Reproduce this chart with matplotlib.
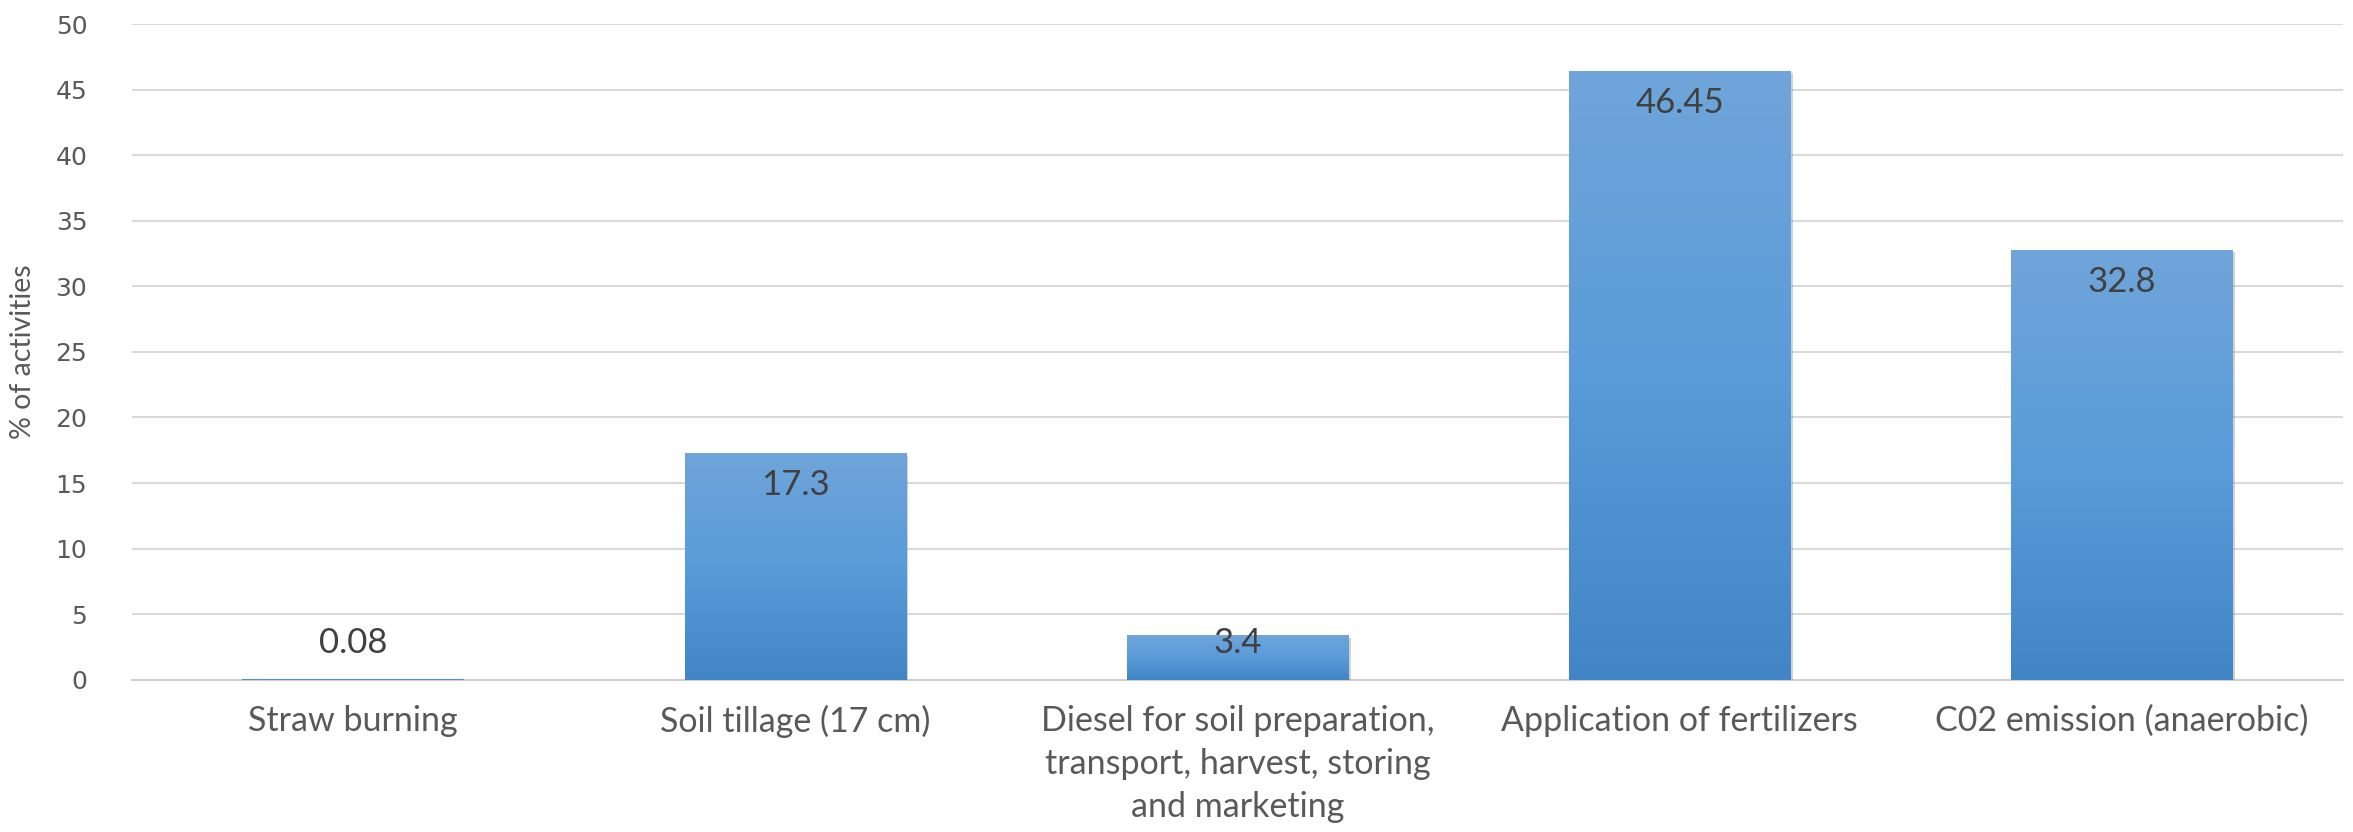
import matplotlib

matplotlib.use("Agg")
import matplotlib.pyplot as plt
import numpy as np
from matplotlib.colors import LinearSegmentedColormap
import matplotlib.patheffects as pe

categories = [
    "Straw burning",
    "Soil tillage (17 cm)",
    "Diesel for soil preparation,\ntransport, harvest, storing\nand marketing",
    "Application of fertilizers",
    "C02 emission (anaerobic)",
]
values = [0.08, 17.3, 3.4, 46.45, 32.8]
value_labels = ["0.08", "17.3", "3.4", "46.45", "32.8"]
y_ticks = [0, 5, 10, 15, 20, 25, 30, 35, 40, 45, 50]

plt.rcParams["font.family"] = ["Lato", "DejaVu Sans"]

fig = plt.figure(figsize=(23.53, 8.32), dpi=100)
ax = fig.add_axes([0.056, 0.183, 0.9397, 0.788])

x = np.arange(len(categories))
bars = ax.bar(x, values, width=0.5, color="#5B9BD5", zorder=3)

# excel-ish vertical gradient on each bar
grad = LinearSegmentedColormap.from_list(
    "bar", [(0.0, "#4285C6"), (0.5, "#5A9BD9"), (1.0, "#6FA5DA")]
)
ramp = np.linspace(0, 1, 256).reshape(-1, 1)
for b in bars:
    x0, y0 = b.get_x(), b.get_y()
    w, h = b.get_width(), b.get_height()
    im = ax.imshow(ramp, cmap=grad, aspect="auto", origin="lower",
                   extent=[x0, x0 + w, y0, y0 + h], zorder=4)
    im.set_clip_path(b)
    b.set_path_effects([pe.SimplePatchShadow(offset=(2, -2), shadow_rgbFace="#808080", alpha=0.35),
                        pe.Normal()])

for xi, v, lab in zip(x, values, value_labels):
    ax.text(xi, max(v - 2.45, 2.8), lab, ha="center", va="center",
            fontsize=25, color="#404040", zorder=5)

ax.set_xlim(-0.5, len(categories) - 0.5)
ax.set_ylim(0, 50)
ax.set_yticks(y_ticks)
ax.set_xticks(x)
ax.set_xticklabels(categories, fontsize=24.5, color="#595959", linespacing=1.42)
ax.tick_params(axis="y", labelsize=18, labelcolor="#595959", length=0, pad=32)
ax.tick_params(axis="x", length=0, pad=18)
for lbl in ax.get_yticklabels():
    lbl.set_family(["DejaVu Sans"])

ax.grid(axis="y", color="#D9D9D9", linewidth=1.5, zorder=0)
for s in ["top", "right", "left"]:
    ax.spines[s].set_visible(False)
ax.spines["bottom"].set_color("#D0D0D0")
ax.spines["bottom"].set_linewidth(1.5)

ax.set_ylabel("% of activities", fontsize=20.5, color="#595959", labelpad=14)

fig.savefig("out.png", dpi=100)
